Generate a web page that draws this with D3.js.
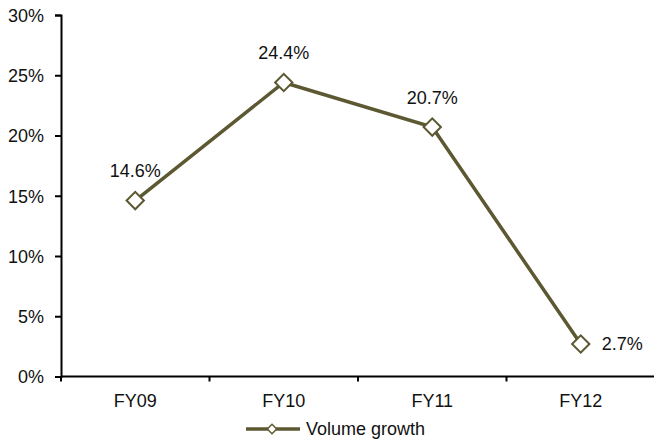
<!DOCTYPE html>
<html>
<head>
<meta charset="utf-8">
<script src="https://cdn.jsdelivr.net/npm/d3@7"></script>
<style>
  body { margin: 0; background: #fff; }
  text { font-family: "Liberation Sans", Arial, sans-serif; fill: #111; }
</style>
</head>
<body>
<div id="chart"></div>
<script>
// data
const years = ["FY09", "FY10", "FY11", "FY12"];
const volumeGrowth = [14.6, 24.4, 20.7, 2.7];
const yTicks = [0, 5, 10, 15, 20, 25, 30];

const width = 654, height = 439;
const lineColor = "#5c5832";
const fs = 18;
const margin = { top: 15, left: 61, bottom: 63 };

const svg = d3.select("#chart").append("svg")
  .attr("width", width)
  .attr("height", height);

const x = d3.scaleBand()
  .domain(years)
  .range([margin.left, margin.left + 4 * 148.5]);

const y = d3.scaleLinear()
  .domain([0, 30])
  .range([height - margin.bottom + 0.5, margin.top]);

// y axis
const yAxis = svg.append("g")
  .attr("transform", `translate(${margin.left},0)`)
  .call(d3.axisLeft(y).tickValues(yTicks).tickSize(6).tickFormat(d => d + "%"));
yAxis.select(".domain").attr("stroke", "#000").attr("stroke-width", 2);
yAxis.selectAll(".tick line").attr("stroke", "#000").attr("stroke-width", 2);
yAxis.selectAll(".tick text").attr("font-size", fs).attr("x", -17).attr("dy", "0.36em")
  .attr("font-family", "Liberation Sans, Arial, sans-serif");

// x axis, ticks at band edges
const xAxis = svg.append("g")
  .attr("transform", `translate(0,${y(0)})`);
xAxis.append("line")
  .attr("x1", margin.left).attr("x2", width)
  .attr("stroke", "#000").attr("stroke-width", 2);
xAxis.selectAll(".xtick")
  .data(years)
  .join("line")
  .attr("x1", d => x(d)).attr("x2", d => x(d))
  .attr("y1", 0).attr("y2", 5)
  .attr("stroke", "#000").attr("stroke-width", 2);
xAxis.selectAll(".xlabel")
  .data(years)
  .join("text")
  .attr("x", d => x(d) + x.bandwidth() / 2)
  .attr("y", 30)
  .attr("text-anchor", "middle")
  .attr("font-size", fs)
  .text(d => d);

const pts = years.map((d, i) => ({ year: d, v: volumeGrowth[i] }));

const line = d3.line()
  .x(d => x(d.year) + x.bandwidth() / 2)
  .y(d => y(d.v));

svg.append("path")
  .datum(pts)
  .attr("d", line)
  .attr("fill", "none")
  .attr("stroke", lineColor)
  .attr("stroke-width", 3.5);

const diamond = d3.symbol().type(d3.symbolSquare).size(150);

svg.selectAll(".marker")
  .data(pts)
  .join("path")
  .attr("d", diamond)
  .attr("transform", d => `translate(${x(d.year) + x.bandwidth() / 2},${y(d.v)}) rotate(45)`)
  .attr("fill", "#fff")
  .attr("stroke", lineColor)
  .attr("stroke-width", 2);

// value labels: last one sits to the right of its point
svg.selectAll(".vlabel")
  .data(pts)
  .join("text")
  .attr("x", (d, i) => x(d.year) + x.bandwidth() / 2 + (i === 3 ? 21 : 0))
  .attr("y", (d, i) => y(d.v) + (i === 3 ? 0 : -30))
  .attr("dy", "0.36em")
  .attr("text-anchor", (d, i) => i === 3 ? "start" : "middle")
  .attr("font-size", fs)
  .text(d => d.v.toFixed(1) + "%");

// legend
const lg = svg.append("g").attr("transform", "translate(0,429)");
lg.append("line")
  .attr("x1", 246).attr("x2", 300)
  .attr("stroke", lineColor).attr("stroke-width", 3.5);
lg.append("path")
  .attr("d", d3.symbol().type(d3.symbolSquare).size(45))
  .attr("transform", "translate(272,0) rotate(45)")
  .attr("fill", "#fff")
  .attr("stroke", lineColor)
  .attr("stroke-width", 1.5);
lg.append("text")
  .attr("x", 306)
  .attr("dy", "0.36em")
  .attr("font-size", fs)
  .text("Volume growth");
</script>
</body>
</html>
